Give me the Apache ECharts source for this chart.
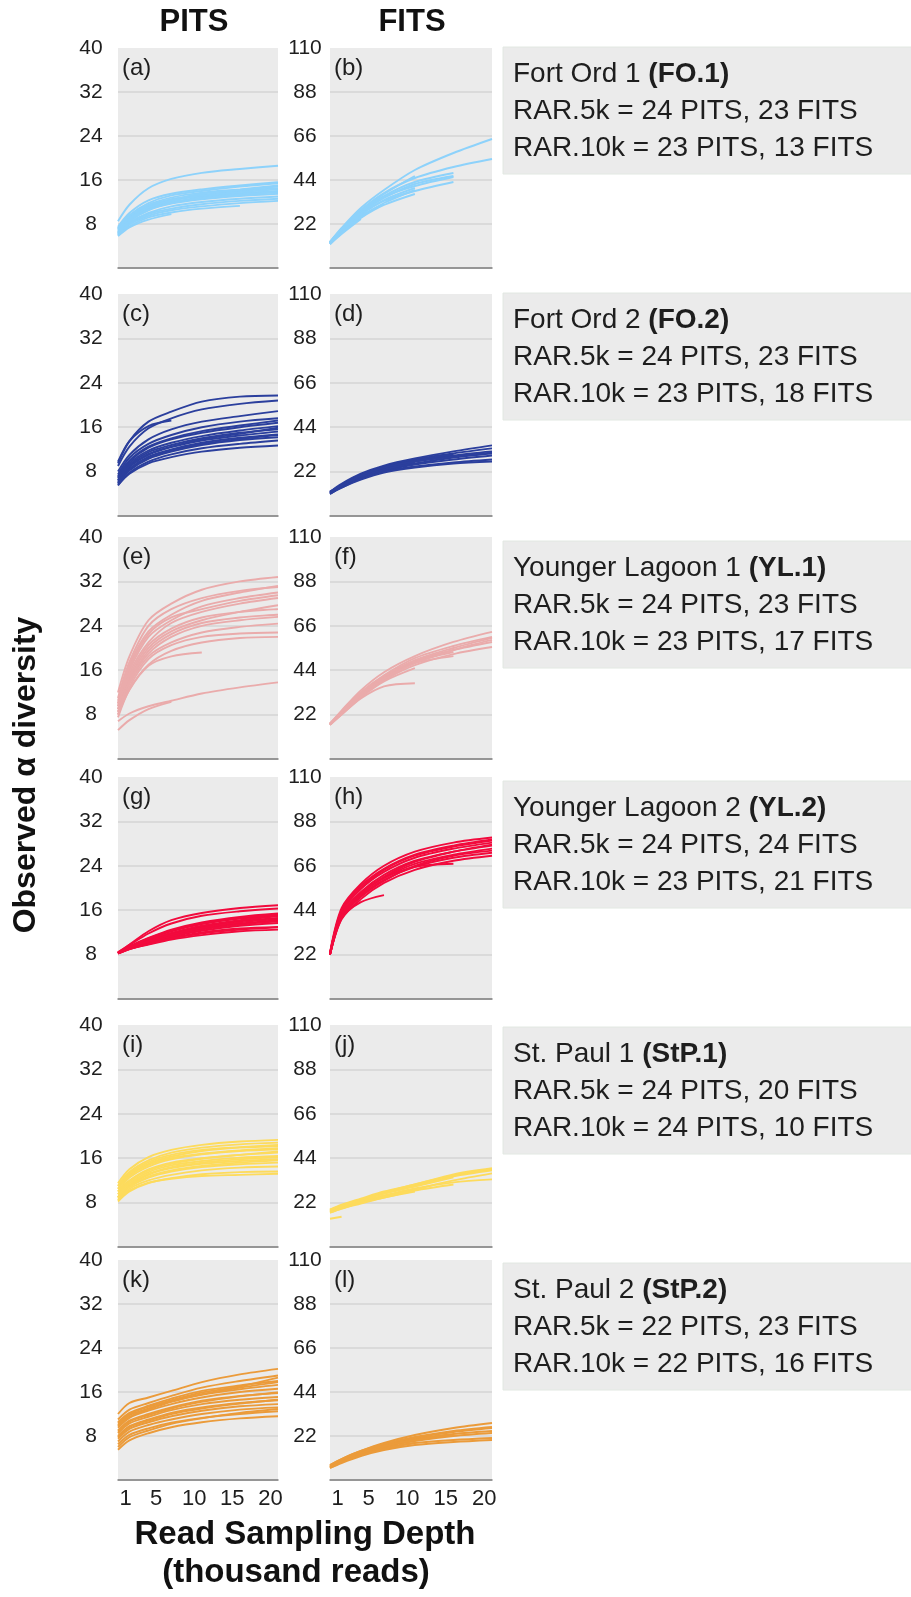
<!DOCTYPE html>
<html><head><meta charset="utf-8">
<script src="https://cdn.jsdelivr.net/npm/echarts@6/dist/echarts.min.js"></script>
<style>html,body{margin:0;padding:0;background:#fff}#c{width:911px;height:1597px}</style>
</head><body><div id="c"></div>
<script>
// ---------- data ----------
const DEPTH = [0, 1.5, 4, 7, 11, 16, 21];          // thousand reads
const X_TICKS = [1, 5, 10, 15, 20];
const PITS_TICKS = [0, 8, 16, 24, 32, 40];
const FITS_TICKS = [0, 22, 44, 66, 88, 110];
const PANEL_LABELS = ['a','b','c','d','e','f','g','h','i','j','k','l'];
const SITES = ['Fort Ord 1','Fort Ord 2','Younger Lagoon 1','Younger Lagoon 2','St. Paul 1','St. Paul 2'];
const CODES = ['FO.1','FO.2','YL.1','YL.2','StP.1','StP.2'];
const RAR5K_PITS = [24,24,24,24,24,22];
const RAR5K_FITS = [23,23,23,24,20,23];
const RAR10K_PITS = [23,23,23,23,24,22];
const RAR10K_FITS = [13,18,17,21,10,16];

const FO1_PITS = [
 [8.5,11.5,14.5,16.2,17.3,18.0,18.6],[7.5,10,12.3,13.5,14.3,15.0,15.6],[7.2,9.6,11.8,13.2,14.0,14.8,15.4],
 [7.0,9.4,11.5,12.8,13.7,14.3,15.0],[6.8,9.2,11.2,12.5,13.3,14.0,14.5],[7.3,9.5,11.4,12.4,13.0,13.6,14.0],
 [6.5,8.8,10.8,12.0,12.8,13.4,13.8],[6.3,8.5,10.5,11.7,12.5,13.1,13.5],[6.6,8.9,11.0,12.2,13.2,13.8,14.3],
 [6.2,8.2,10.0,11.2,12.0,12.6,13.0],[6.0,8.0,9.8,10.8,11.6,12.2,12.6],[6.1,7.9,9.5,10.5,11.2,11.8,12.2],
 [5.9,7.6,9.2,10.1,10.8,11.3],[6.4,8.6,10.6,11.8,12.7,13.3,13.8],[5.8,7.4,8.8,9.8],[7.0,9.0,11.0,12.3,13.5,14.2,14.8]
];
const FO1_FITS = [
 [13,20,30,39,49,57.5,64.5],[13,19.5,29,37.5,45,50.5,54.5],[12.5,19,28,36,43,47.5],[12.5,18.5,27.5,35,42,46],
 [13,19,28.5,37,46],[12.5,18,26.5,33.5,38.5,43],[12,18,26,32],[12,17.5,25,31.5,37],[12.5,18.5,27,34,40],
 [12,17,24.5],[13,19,27.5,35.5,41,45.5],[12,17.5,25.5,32.5,39]
];
const FO2_PITS = [
 [9.5,13.5,17,18.8,20.6,21.5,21.7],[9,12.5,15.8,17.6,19.2,20.2,20.8],[9.8,13.5,16.2,17.2],
 [8,11,13.8,15.6,17,18,18.9],[7.5,10.5,13,14.6,16,17,17.6],[7,9.8,12.3,13.8,15,16,16.8],
 [6.8,9.5,11.8,13.2,14.4,15.4,16.2],[6.5,9.2,11.5,12.8,14,15,15.6],[6.2,8.8,11,12.4,13.6,14.5,15.2],
 [6,8.5,10.7,12,13.2,14.1,14.7],[5.8,8.2,10.3,11.6,12.8,13.7,14.2],[5.5,7.8,9.8,11.1,12.2,13,13.6],
 [5.6,7.6,9.5,10.6,11.6,12.3,12.7],[7.2,10,12.5,14,15.3,16.3,17.2],[6.5,9,11.2,12.5,13.8,14.8,15.9],
 [6,8.4,10.5,11.8,13,13.9,14.6]
];
const FO2_FITS = [
 [12,16,21,25,28.5,32,35],[12,15.5,20.5,24.5,28,31,33.5],[11.5,15,20,23.5,27,30,32],[11.5,15,19.5,23,26,29,31],
 [11,14.5,19,22.5,25.5,28,30],[11,14,18.5,22,24.5,26.5,28],[11,14,18,21.5,24,26,27],[12,15.5,20.5,24,27.5,30.5],
 [11.5,15,19.5,23,26.5],[11.5,15,20,24,27,29.5,31.5]
];
const YL1_PITS = [
 [12,18.5,25,28,30.5,32,32.8],[11,17.5,24,27,29,30.3,31],[10.5,17,23,26,28.5,30,31.2],[10,16,22,25,27.5,29,30],
 [9.5,15.5,21,24.5,26.5,28,29],[9,14.5,20,23,25,26.5,27.7],[9,14,19,22,24,25,25.6],[8.5,13.5,18.5,21,22.8,23.8,24.4],
 [8,13,18,20.5,22,22.6,22.8],[7.5,12.5,17,19.5,21,21.8,22],[8,12.5,16.8,18.5,19.2],[6.8,8.2,9.5,10.5,11.8,12.9,13.8],
 [5.2,7,9,10.3],[10,16.5,22.5,25.5,27,28.5,29.5],[9.5,15,20.5,23.5,25.5,26.5,27],[8.5,14,19.5,22.5,24.5,25.5,26]
];
const YL1_FITS = [
 [17.5,24,34,43,51,58,63],[17.5,23.5,33,41.5,50,56,60.5],[17,23,32,40.5,48.5,54,58],[17,22.5,31,39,46.5,52,55.5],
 [17,22.5,31.5,40,48,53],[17,22,30,36,37.5],[17.5,23,32,40,47.5,51],[17,22.5,31,39.5,47.5,54,59],
 [17,22,30.5,38.5,45],[17.5,23.5,33,41,49,55,60]
];
const YL2_PITS = [
 [8.4,9.8,12.2,14.2,15.5,16.4,16.9],[8.4,9.7,11.8,13.6,15,15.8,16.3],[8.3,9.5,11,12.5,13.8,14.8,15.4],
 [8.3,9.4,10.8,12.2,13.5,14.5,15],[8.3,9.3,10.5,11.8,13,14,14.6],[8.2,9.2,10.3,11.5,12.7,13.6,14.2],
 [8.2,9.1,10.1,11.2,12.3,13.2,13.7],[8.2,9,10,11,12,12.7,13],[8.2,9,9.8,10.7,11.5,12.2,12.5],
 [8.3,9.3,10.6,11.9,13.2,14.2,14.9],[8.3,9.4,10.9,12.3,13.6,14.6,15.2],[8.2,9.1,10.2,11.3,12.5,13.4,14],
 [8.2,9,9.9,10.9,11.8,12.5,12.9],[8.3,9.2,10.4,11.6,12.8,13.8,14.4]
];
const YL2_FITS = [
 [23,45,57,66,73,77.5,80],[22.5,44,56,64.5,71.5,76,79],[22.5,43,54.5,63,70,74.5,77.5],[22,42,53,61.5,68.5,73,76],
 [22,41,52,60,67,71.5,74.5],[22,40,51,59,65.5,70,72.5],[22,39.5,49.5,57.5,64,68.5,71],[22,40,48,51.5],
 [22.5,42,52.5,60,65.5,67],[22,41.5,52,60.5,68,73,76.5],[22.5,43.5,55,64,71,75.5,78.5],[22,40.5,50.5,58.5,66,71,73.5]
];
const STP1_PITS = [
 [11.5,14,16.2,17.5,18.4,19,19.3],[11,13.5,15.6,17,17.9,18.5,18.8],[10.5,13,15,16.3,17.3,17.9,18.2],
 [10,12.5,14.5,15.8,16.7,17.3,17.6],[10,12,14,15.2,16,16.6,17],[9.5,11.5,13.5,14.7,15.5,16.1,16.4],
 [9,11,13,14.2,15,15.5,15.8],[9,10.8,12.5,13.6,14.4,14.9,15.2],[8.5,10.5,12,13,13.8,14.3,14.5],
 [8.2,10,11.5,12.4,13.1,13.5,13.6],[8.5,10.2,11.6,12.3,12.8,13,13.2],[9.5,11.8,13.8,15,15.9,16.6,17.2],
 [10.5,12.8,14.8,16,16.8,17.4,17.8],[9,11.2,13.2,14.4,15.2,15.8,16.2],[8.8,10.9,12.7,13.8,14.6,15.2,15.6],
 [11,13.3,15.3,16.6,17.5,18,18.4]
];
const STP1_FITS = [
 [18.5,20.5,23.5,27,31,35.5,38.5],[18,20,23,26.5,30.5,35,38],[17.5,19.5,22.5,25.5,29,32,33.5],
 [17.5,19.5,22,25,28.5,33,36.5],[18,20,23.5,26.5,30,34.5],[17,19,22,24.5,27.5],[18.5,21,24,27.5,31,36,39],
 [17,19,21.5,24.5,28,31],[14,15]
];
const STP2_PITS = [
 [12,14,15,16.2,17.8,19.2,20.2],[11,12.8,14,15.3,16.8,18,19],[10.5,12.2,13.5,14.8,16.2,17.2,18],
 [10,11.8,13,14.3,15.5,16.5,17.3],[9.5,11.3,12.6,13.8,15,16,16.6],[9,10.8,12,13.2,14.4,15.3,15.8],
 [8.5,10.3,11.5,12.7,13.8,14.6,15.1],[8,9.8,11,12.2,13.2,14,14.5],[7.5,9.3,10.5,11.6,12.6,13.4,13.8],
 [7,8.8,10,11,12,12.8,13.2],[6.5,8.2,9.4,10.4,11.3,12,12.5],[5.5,7.2,8.5,9.6,10.5,11.2,11.6],
 [9.8,11.5,12.8,14.2,15.6,16.8,17.8],[8.8,10.6,11.8,13,14.2,15.2,15.9],[7.8,9.6,10.8,12,13,13.9,14.6],
 [6,7.8,9,10.2,11.2,12.2,12.9],[10.3,12,13.3,14.5,15.9,17,18.6]
];
const STP2_FITS = [
 [7.5,10.5,14.5,18.5,22.5,26,28.5],[7,10,14,17.5,21,24,26],[6.5,9.5,13.5,17,20.5,23,24.5],
 [6.5,9.5,13,16.5,19.5,22,23.5],[6,9,12.5,16,18.5,20,21],[6,8.5,12,15,17.5,19,20],
 [7,10,13.5,17,20,22.5],[6.5,9,12.5,15.5,18.5],[7.5,10.5,14.5,18,21.5,24.5,26.5]
];

// ---------- layout / style ----------
const PANELS = [
  [FO1_PITS, FO1_FITS], [FO2_PITS, FO2_FITS], [YL1_PITS, YL1_FITS],
  [YL2_PITS, YL2_FITS], [STP1_PITS, STP1_FITS], [STP2_PITS, STP2_FITS]
];
const COLORS = ['#8dd2fb','#2b3f9d','#eaabab','#f20a3d','#fddb5c','#eb9b3a'];
const ROW_TOP = [48, 294, 537, 777, 1025, 1260];
const ROW_BOT = [268, 516, 759, 999, 1247, 1480];
const COL_LEFT = [118, 330];
const COL_W = [160, 162];
const BOX_TOP = [47, 293, 541, 781, 1027, 1263];
const FONT = "'Liberation Sans', Arial, Helvetica, sans-serif";
const TXT = '#1e1e1e';

const grids = [], xAxes = [], yAxes = [], series = [], graphics = [];
for (let r = 0; r < 6; r++) {
  for (let c = 0; c < 2; c++) {
    const idx = r * 2 + c;
    const ticks = c === 0 ? PITS_TICKS : FITS_TICKS;
    grids.push({left: COL_LEFT[c], top: ROW_TOP[r], width: COL_W[c], height: ROW_BOT[r] - ROW_TOP[r],
      show: true, backgroundColor: '#ebebeb', borderWidth: 0, containLabel: false});
    xAxes.push({gridIndex: idx, type: 'value', min: 0, max: 21, interval: 1,
      axisLine: {show: true, onZero: false, lineStyle: {color: '#7f7f7f', width: 1.5}},
      axisTick: {show: false}, splitLine: {show: false},
      axisLabel: r === 5 ? {show: true, fontSize: 22, color: TXT, fontFamily: FONT, margin: 8,
        formatter: v => X_TICKS.includes(v) ? String(v) : ''} : {show: false}});
    yAxes.push({gridIndex: idx, type: 'value', min: ticks[0], max: ticks[ticks.length - 1],
      interval: ticks[1] - ticks[0],
      axisLine: {show: false}, axisTick: {show: false},
      splitLine: {show: true, showMaxLine: false, lineStyle: {color: '#d4d4d4', width: 1.5}},
      axisLabel: {show: true, showMinLabel: false, align: 'center', margin: c === 0 ? 27 : 25,
        fontSize: 21, color: TXT, fontFamily: FONT,
        formatter: v => v === 0 ? '' : String(v)}});
    PANELS[r][c].forEach(curve => {
      series.push({type: 'line', xAxisIndex: idx, yAxisIndex: idx, silent: true,
        data: curve.map((y, i) => [DEPTH[i], y]),
        showSymbol: false, symbol: 'none', smooth: 0.3,
        lineStyle: {width: 1.9, color: COLORS[r]}, z: 3});
    });
    graphics.push({type: 'text', x: COL_LEFT[c] + 4, y: ROW_TOP[r] + 20, z: 10,
      style: {text: '(' + PANEL_LABELS[idx] + ')', fontSize: 24, fontFamily: FONT, fill: TXT,
        align: 'left', verticalAlign: 'middle'}});
  }
  graphics.push({type: 'rect', shape: {x: 503, y: BOX_TOP[r], width: 410, height: 127},
    style: {fill: '#ebebeb', stroke: '#e2e8e2', lineWidth: 1}, z: 1});
  graphics.push({type: 'text', x: 513, y: BOX_TOP[r] + 9, z: 10,
    style: {
      text: '{n|' + SITES[r] + ' }{b|(' + CODES[r] + ')}\n' +
            '{n|RAR.5k = ' + RAR5K_PITS[r] + ' PITS, ' + RAR5K_FITS[r] + ' FITS}\n' +
            '{n|RAR.10k = ' + RAR10K_PITS[r] + ' PITS, ' + RAR10K_FITS[r] + ' FITS}',
      align: 'left', verticalAlign: 'top',
      rich: {
        n: {fontSize: 28, fontFamily: FONT, fill: TXT, lineHeight: 37},
        b: {fontSize: 28, fontFamily: FONT, fontWeight: 'bold', fill: TXT, lineHeight: 37}
      }
    }});
}
graphics.push({type: 'text', x: 194, y: 22, style: {text: 'PITS', font: "bold 31px " + FONT, fill: '#111', align: 'center', verticalAlign: 'middle'}});
graphics.push({type: 'text', x: 412, y: 22, style: {text: 'FITS', font: "bold 31px " + FONT, fill: '#111', align: 'center', verticalAlign: 'middle'}});
graphics.push({type: 'text', x: 26, y: 775, rotation: Math.PI / 2,
  style: {text: 'Observed α diversity', font: "bold 32px " + FONT, fill: '#111', align: 'center', verticalAlign: 'middle'}});
graphics.push({type: 'text', x: 305, y: 1535, style: {text: 'Read Sampling Depth', font: "bold 33px " + FONT, fill: '#111', align: 'center', verticalAlign: 'middle'}});
graphics.push({type: 'text', x: 296, y: 1573, style: {text: '(thousand reads)', font: "bold 33px " + FONT, fill: '#111', align: 'center', verticalAlign: 'middle'}});

const chart = echarts.init(document.getElementById('c'), null, {renderer: 'canvas'});
chart.setOption({
  animation: false,
  backgroundColor: '#ffffff',
  grid: grids, xAxis: xAxes, yAxis: yAxes, series: series,
  graphic: graphics
});
</script></body></html>
